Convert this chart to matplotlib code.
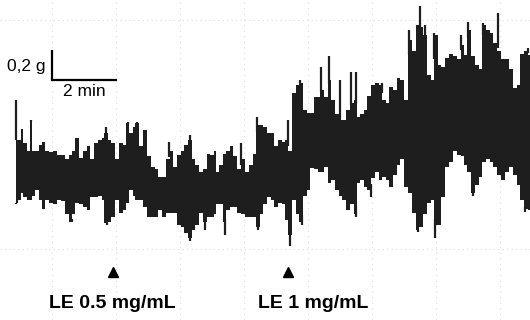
import matplotlib
matplotlib.use("Agg")
import matplotlib.pyplot as plt
import numpy as np

# Isometric tension trace: time (min) vs force (g), envelope of the recorded signal
time_min = [0.03, 0.13, 0.22, 0.31, 0.41, 0.50, 0.59, 0.69, 0.78, 0.88,
            1.00, 1.13, 1.25, 1.38, 1.50, 1.63, 1.75, 1.84, 1.94, 2.06,
            2.19, 2.28, 2.41, 2.53, 2.66, 2.75, 2.84, 2.97, 3.06, 3.19,
            3.31, 3.41, 3.50, 3.63, 3.72, 3.81, 3.94, 4.06, 4.19, 4.31,
            4.41, 4.53, 4.66, 4.78, 4.88, 5.00, 5.13, 5.22, 5.34, 5.47,
            5.59, 5.69, 5.81, 5.94, 6.03, 6.16, 6.25, 6.34, 6.44, 6.53,
            6.66, 6.75, 6.88, 7.00, 7.13, 7.25, 7.38, 7.47, 7.59, 7.72,
            7.81, 7.94, 8.03, 8.16, 8.28, 8.38, 8.47, 8.59, 8.72, 8.84,
            8.94, 9.06, 9.16, 9.28, 9.41, 9.50, 9.59, 9.72, 9.84, 9.94,
            10.06, 10.16, 10.28, 10.41, 10.53, 10.63, 10.75, 10.84, 10.97, 11.06,
            11.19, 11.31, 11.41, 11.53, 11.63, 11.75, 11.88, 12.00, 12.09, 12.22,
            12.34, 12.47, 12.59, 12.69, 12.81, 12.94, 13.03, 13.16, 13.25, 13.38,
            13.50, 13.63, 13.75, 13.88, 13.97, 14.09, 14.19, 14.31, 14.44, 14.53,
            14.66, 14.78, 14.88, 15.00, 15.13, 15.25, 15.38, 15.50, 15.63, 15.75,
            15.84, 15.97, 16.09]

force_high = [0.41, 0.41, 0.49, 0.39, 0.34, 0.54, 0.34, 0.34, 0.38, 0.40,
              0.34, 0.33, 0.34, 0.31, 0.31, 0.28, 0.31, 0.34, 0.43, 0.29,
              0.34, 0.37, 0.28, 0.39, 0.41, 0.43, 0.46, 0.41, 0.39, 0.28,
              0.39, 0.38, 0.53, 0.46, 0.50, 0.53, 0.37, 0.48, 0.30, 0.23,
              0.21, 0.16, 0.16, 0.28, 0.34, 0.23, 0.31, 0.34, 0.38, 0.41,
              0.28, 0.24, 0.19, 0.21, 0.32, 0.31, 0.34, 0.19, 0.24, 0.32,
              0.34, 0.37, 0.30, 0.21, 0.28, 0.19, 0.24, 0.32, 0.52, 0.52,
              0.50, 0.46, 0.46, 0.37, 0.41, 0.40, 0.41, 0.34, 0.74, 0.79,
              0.81, 0.62, 0.60, 0.60, 0.71, 0.71, 0.76, 0.71, 0.83, 0.69,
              0.59, 0.55, 0.55, 0.62, 0.67, 0.69, 0.57, 0.59, 0.62, 0.72,
              0.79, 0.81, 0.79, 0.69, 0.67, 0.78, 0.76, 0.84, 0.83, 0.69,
              1.10, 1.03, 1.21, 1.19, 1.14, 0.86, 0.83, 1.14, 0.93, 0.92,
              0.98, 1.01, 0.99, 0.97, 1.07, 1.00, 1.17, 0.99, 0.93, 0.90,
              1.21, 1.17, 1.15, 1.08, 1.03, 0.97, 0.97, 0.90, 0.77, 0.79,
              1.01, 1.03, 1.00]

force_low = [-0.02, 0.00, 0.05, 0.02, 0.00, 0.00, 0.03, 0.07, 0.00, -0.06,
             0.00, -0.02, -0.03, 0.00, -0.01, -0.10, -0.15, -0.10, -0.02, -0.03,
             -0.05, -0.07, 0.02, 0.02, 0.03, 0.00, -0.16, -0.15, -0.12, 0.00,
             -0.09, -0.07, -0.02, 0.07, 0.03, 0.00, 0.00, -0.05, -0.12, -0.12,
             -0.12, -0.07, -0.12, -0.09, -0.09, -0.09, -0.17, -0.19, -0.23, -0.26,
             -0.21, -0.17, -0.09, -0.15, -0.12, -0.12, -0.10, -0.03, -0.03, -0.15,
             -0.07, -0.05, -0.05, -0.09, -0.10, -0.12, -0.12, -0.12, -0.19, -0.10,
             -0.03, 0.02, 0.00, -0.05, -0.02, -0.03, -0.14, -0.24, 0.00, -0.10,
             -0.15, 0.03, 0.07, 0.22, 0.21, 0.19, 0.19, 0.23, 0.12, 0.14,
             0.07, 0.03, 0.00, -0.07, -0.03, -0.10, 0.12, 0.14, 0.09, 0.07,
             0.15, 0.19, 0.14, 0.16, 0.14, 0.09, 0.17, 0.24, 0.28, 0.09,
             0.05, -0.09, -0.21, -0.19, -0.10, -0.02, 0.00, -0.17, -0.17, 0.02,
             0.23, 0.26, 0.34, 0.31, 0.30, 0.24, 0.19, 0.05, 0.10, 0.16,
             0.26, 0.28, 0.26, 0.23, 0.17, 0.14, 0.19, 0.23, 0.17, 0.10,
             0.00, -0.06, -0.07]

# Isolated fast contractions reaching past the envelope
peak_time = [0.03, 0.50, 2.84, 3.53, 3.81, 4.81, 5.47, 7.06, 7.56, 8.53,
             8.91, 9.56, 9.81, 10.16, 10.50, 10.66, 11.47, 12.31, 12.66, 12.81,
             13.09, 13.94, 14.16, 14.63, 15.09, 16.03]
peak_force = [0.69, 0.55, 0.50, 0.54, 0.54, 0.40, 0.45, 0.39, 0.57, 0.55,
              0.83, 0.92, 0.99, 0.83, 0.88, 0.88, 0.81, 1.17, 1.34, 1.21,
              1.15, 1.14, 1.23, 1.22, 1.29, 1.05]

trough_time = [0.03, 1.78, 2.88, 5.47, 5.94, 6.56, 7.59, 8.59, 8.97, 10.66,
               11.13, 12.59, 13.13, 14.31, 15.94]
trough_force = [-0.03, -0.15, -0.17, -0.28, -0.21, -0.24, -0.21, -0.32, -0.17, -0.12,
                0.02, -0.22, -0.26, 0.03, -0.08]

# Drug additions
dose_time = [3.06, 8.53]
dose_labels = ["LE 0.5 mg/mL", "LE 1 mg/mL"]
dose_label_x = [3.03, 9.31]

# Calibration bar
bar_force = 0.2   # g
bar_time = 2.0    # min

fig = plt.figure(figsize=(5.30, 3.20), dpi=100)
ax = fig.add_axes([0, 0, 1, 1])
ax.set_xlim(-0.469, 16.094)
ax.set_ylim(-0.828, 1.379)
ax.axis("off")

# faint chart-paper grid
grid_col = "#dcdcdc"
for gy in (1.24, -0.34):
    ax.axhline(gy, color=grid_col, lw=0.8, ls=(0, (1, 3)), zorder=0)
for gx in np.arange(1.16, 16.1, 2.0):
    ax.axvline(gx, color=grid_col, lw=0.8, ls=(0, (1, 4)), zorder=0)

trace_col = "#1e1e1e"
ax.fill_between(time_min, force_low, force_high, step="mid",
                color=trace_col, lw=0, zorder=2)
ax.vlines(peak_time, np.interp(peak_time, time_min, force_high),
          peak_force, color=trace_col, lw=1.6, zorder=2)
ax.vlines(trough_time, trough_force, np.interp(trough_time, time_min, force_low),
          color=trace_col, lw=1.6, zorder=2)

# calibration bar
bx, by = 1.16, 0.83
ax.plot([bx, bx, bx + bar_time], [by + bar_force, by, by],
        color="black", lw=1.6, solid_joinstyle="miter", zorder=3)
ax.text(bx - 0.22, by + 0.09, "0,2 g", ha="right", va="center",
        fontsize=12.5, family="Liberation Sans")
ax.text(bx + bar_time / 2, by - 0.03, "2 min", ha="center", va="top",
        fontsize=12.5, family="Liberation Sans")

# dose markers
ax.plot(dose_time, [-0.50] * len(dose_time), marker="^", ls="none",
        color="black", ms=7, zorder=3)
for lx, lab in zip(dose_label_x, dose_labels):
    ax.text(lx, -0.715, lab, ha="center", va="center", fontsize=14,
            fontweight="bold", family="Liberation Sans")

fig.savefig("out.png", dpi=100)
